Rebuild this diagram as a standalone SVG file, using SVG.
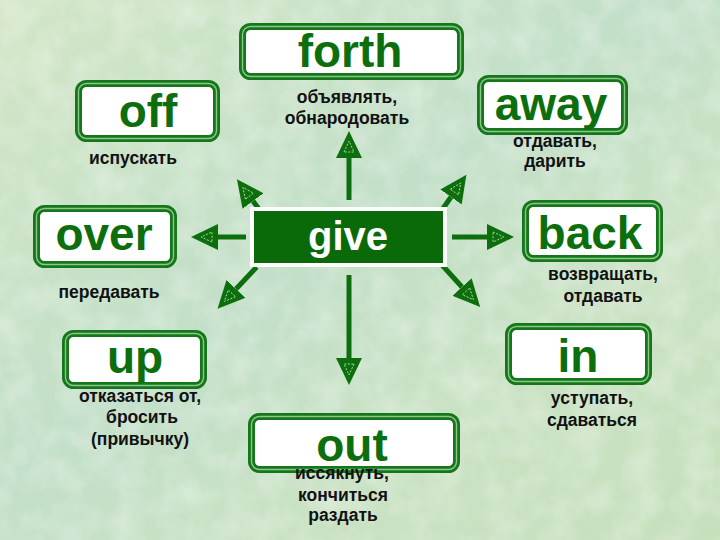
<svg xmlns="http://www.w3.org/2000/svg" width="720" height="540" viewBox="0 0 720 540">
<defs>
<linearGradient id="bg" x1="0" y1="0" x2="1" y2="1">
<stop offset="0" stop-color="#d2e6c6"/>
<stop offset="0.45" stop-color="#c2dfc8"/>
<stop offset="0.7" stop-color="#cae2c4"/>
<stop offset="1" stop-color="#c6e0bc"/>
</linearGradient>
<filter id="tex" x="0" y="0" width="100%" height="100%">
<feTurbulence type="fractalNoise" baseFrequency="0.035" numOctaves="3" seed="4" result="n"/>
<feColorMatrix in="n" type="matrix" values="0 0 0 0 1  0 0 0 0 1  0 0 0 0 1  0 0 0 -1.6 1.05" />
</filter>
<marker id="ah" markerUnits="userSpaceOnUse" markerWidth="28" markerHeight="26" viewBox="0 0 28 26" refX="0" refY="13" orient="auto">
<path d="M0,0 L27,13 L0,26 Z" fill="#0c6e0c"/>
<path d="M6,8 L17,13 L6,18 Z" fill="none" stroke="#b8e0b0" stroke-width="0.9" stroke-dasharray="2,1.5"/>
</marker>
</defs>
<style>
.box{fill:#ffffff;stroke:#15771a;stroke-width:7}
.boxmid{fill:none;stroke:#8cc68c;stroke-width:1.4}
.word{font-family:"Liberation Sans",Arial,sans-serif;font-weight:bold;font-size:46px;fill:#0d6e0d;text-anchor:middle}
.lbl{font-family:"Liberation Sans",Arial,sans-serif;font-weight:bold;font-size:17.5px;fill:#111111;text-anchor:middle}
.con{stroke:#0c6e0c;stroke-width:5;fill:none;marker-end:url(#ah)}
</style>
<rect x="0" y="0" width="720" height="540" fill="url(#bg)"/>
<rect x="0" y="0" width="720" height="540" filter="url(#tex)" opacity="0.35"/>

<g id="connectors">
<line class="con" x1="349" y1="200" x2="349" y2="158"/>
<line class="con" x1="349" y1="275" x2="349" y2="358"/>
<line class="con" x1="246" y1="237" x2="218" y2="237"/>
<line class="con" x1="452" y1="237" x2="487" y2="237"/>
<line class="con" x1="260" y1="210.5" x2="253" y2="201"/>
<line class="con" x1="443" y1="208.5" x2="451" y2="197"/>
<line class="con" x1="442" y1="265" x2="462" y2="287"/>
<line class="con" x1="256.7" y1="267" x2="236" y2="289"/>
</g>

<g id="give">
<rect x="252" y="209" width="193" height="56" fill="#0a6a0a" stroke="#ffffff" stroke-width="4"/>
<text x="348" y="250" class="word" style="fill:#ffffff;font-size:40px">give</text>
</g>

<g id="forth">
<rect class="box" x="242.5" y="26.5" width="218" height="50" rx="8"/>
<rect class="boxmid" x="242.5" y="26.5" width="218" height="50" rx="8"/>
<text x="350" y="67" class="word">forth</text>
<text x="347" y="103" class="lbl">объявлять,</text>
<text x="347" y="124" class="lbl">обнародовать</text>
</g>

<g id="off">
<rect class="box" x="78.5" y="83.5" width="138" height="55" rx="8"/>
<rect class="boxmid" x="78.5" y="83.5" width="138" height="55" rx="8"/>
<text x="148" y="127" class="word">off</text>
<text x="133" y="164" class="lbl">испускать</text>
</g>

<g id="away">
<rect class="box" x="480.5" y="78.5" width="144" height="53" rx="8"/>
<rect class="boxmid" x="480.5" y="78.5" width="144" height="53" rx="8"/>
<text x="551" y="120" class="word">away</text>
<text x="555" y="147" class="lbl">отдавать,</text>
<text x="555" y="167" class="lbl">дарить</text>
</g>

<g id="over">
<rect class="box" x="36.5" y="208.5" width="137" height="56" rx="8"/>
<rect class="boxmid" x="36.5" y="208.5" width="137" height="56" rx="8"/>
<text x="104" y="250" class="word">over</text>
<text x="109" y="298" class="lbl">передавать</text>
</g>

<g id="back">
<rect class="box" x="525.5" y="203.5" width="134" height="55" rx="8"/>
<rect class="boxmid" x="525.5" y="203.5" width="134" height="55" rx="8"/>
<text x="590" y="249" class="word">back</text>
<text x="603" y="280" class="lbl">возвращать,</text>
<text x="603" y="302" class="lbl">отдавать</text>
</g>

<g id="up">
<rect class="box" x="65.5" y="333.5" width="138" height="52" rx="8"/>
<rect class="boxmid" x="65.5" y="333.5" width="138" height="52" rx="8"/>
<text x="135" y="373" class="word">up</text>
<text x="140" y="402" class="lbl">отказаться от,</text>
<text x="142" y="423" class="lbl">бросить</text>
<text x="140" y="445" class="lbl">(привычку)</text>
</g>

<g id="in">
<rect class="box" x="508.5" y="326.5" width="140" height="55" rx="8"/>
<rect class="boxmid" x="508.5" y="326.5" width="140" height="55" rx="8"/>
<text x="578" y="372" class="word">in</text>
<text x="592" y="404" class="lbl">уступать,</text>
<text x="592" y="426" class="lbl">сдаваться</text>
</g>

<g id="out">
<rect class="box" x="251.5" y="416.5" width="205" height="53" rx="8"/>
<rect class="boxmid" x="251.5" y="416.5" width="205" height="53" rx="8"/>
<text x="352" y="461" class="word">out</text>
<text x="342" y="479" class="lbl">иссякнуть,</text>
<text x="343" y="501" class="lbl">кончиться</text>
<text x="343" y="521" class="lbl">раздать</text>
</g>
</svg>
